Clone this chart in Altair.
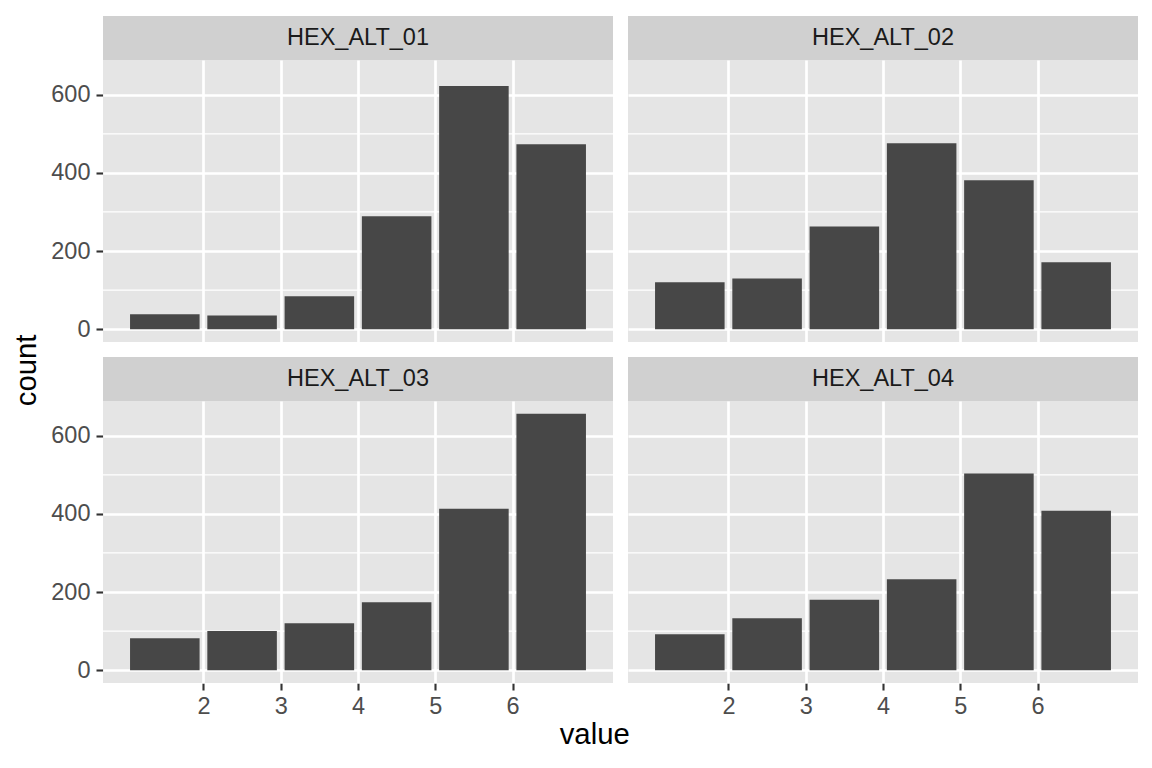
import altair as alt
import pandas as pd

PANELS = ["HEX_ALT_01", "HEX_ALT_02", "HEX_ALT_03", "HEX_ALT_04"]
BIN_CENTERS = [1.5, 2.5, 3.5, 4.5, 5.5, 6.5]
COUNTS_01 = [38, 35, 84, 289, 622, 473]
COUNTS_02 = [120, 130, 263, 476, 381, 171]
COUNTS_03 = [82, 100, 120, 174, 413, 656]
COUNTS_04 = [92, 133, 180, 233, 503, 408]
X_TICKS = [2, 3, 4, 5, 6]
Y_TICKS = [0, 200, 400, 600]
Y_MINOR = [100, 300, 500]

rows = []
for p, counts in zip(PANELS, [COUNTS_01, COUNTS_02, COUNTS_03, COUNTS_04]):
    for i, (c, n) in enumerate(zip(BIN_CENTERS, counts)):
        rows.append({"panel": p, "i": i, "lo": c - 0.45, "hi": c + 0.45, "count": n})
df = pd.DataFrame(rows)

ymax = max(COUNTS_01 + COUNTS_02 + COUNTS_03 + COUNTS_04)
y_dom = [-0.05 * ymax, 1.05 * ymax]
x_dom = [0.7, 7.3]

W, H = 510, 282
STRIP = 44
FONT = "Liberation Sans"

xscale = alt.Scale(domain=x_dom, nice=False, zero=False)
yscale = alt.Scale(domain=y_dom, nice=False, zero=False)

minor = alt.Chart().transform_filter(alt.datum.i == 0).transform_calculate(
    m="[" + ",".join(str(v) for v in Y_MINOR) + "]"
).transform_flatten(["m"]).mark_rule(color="white", strokeWidth=1.3).encode(
    y=alt.Y("m:Q", scale=yscale)
)

bars = alt.Chart().mark_bar(color="#474747").encode(
    x=alt.X("lo:Q", scale=xscale, title=None,
            axis=alt.Axis(values=X_TICKS, grid=True)),
    x2="hi:Q",
    y=alt.Y("count:Q", scale=yscale, title=None,
            axis=alt.Axis(values=Y_TICKS, grid=True)),
    y2=alt.datum(0),
)

strip = alt.Chart().transform_filter(alt.datum.i == 0).mark_rect(
    color="#D0D0D0"
).encode(
    x=alt.value(0), x2=alt.value(W), y=alt.value(-STRIP), y2=alt.value(0)
)

strip_text = alt.Chart().transform_filter(alt.datum.i == 0).mark_text(
    font=FONT, fontSize=23.5, color="#1A1A1A", baseline="middle", align="center"
).encode(
    x=alt.value(W / 2), y=alt.value(-STRIP / 2), text="panel:N"
)

layer = alt.layer(minor, bars, strip, strip_text, data=df).properties(width=W, height=H)

facet = layer.facet(
    facet=alt.Facet("panel:N", title=None,
                    header=alt.Header(labels=False, labelExpr="''", labelFontSize=1,
                                      labelPadding=0, labelColor="transparent")),
    columns=2,
    spacing=alt.RowColnumber(row=STRIP + 15, column=15),
    bounds="flush",
).properties(
    title=alt.TitleParams("value", orient="bottom", anchor="middle", offset=3,
                          font=FONT, fontSize=29.3, fontWeight="normal", color="black")
)

chart = alt.hconcat(facet).properties(
    title=alt.TitleParams("count", orient="left", anchor="middle", offset=8, dx=12,
                          font=FONT, fontSize=29.3, fontWeight="normal", color="black"),
    padding={"left": 5, "top": 7, "right": 5, "bottom": 5},
).configure_view(
    fill="#E5E5E5", stroke=None
).configure_header(
    labels=False
).configure_axis(
    domain=False,
    gridColor="white", gridWidth=2.7,
    tickColor="#333333", tickWidth=2.1, tickSize=7,
    labelFont=FONT, labelFontSize=23.5, labelColor="#4D4D4D",
).configure_axisY(
    labelPadding=6
).configure_axisX(
    labelPadding=4
)

chart.save("out.html", embed_options={"renderer": "svg", "actions": False})
